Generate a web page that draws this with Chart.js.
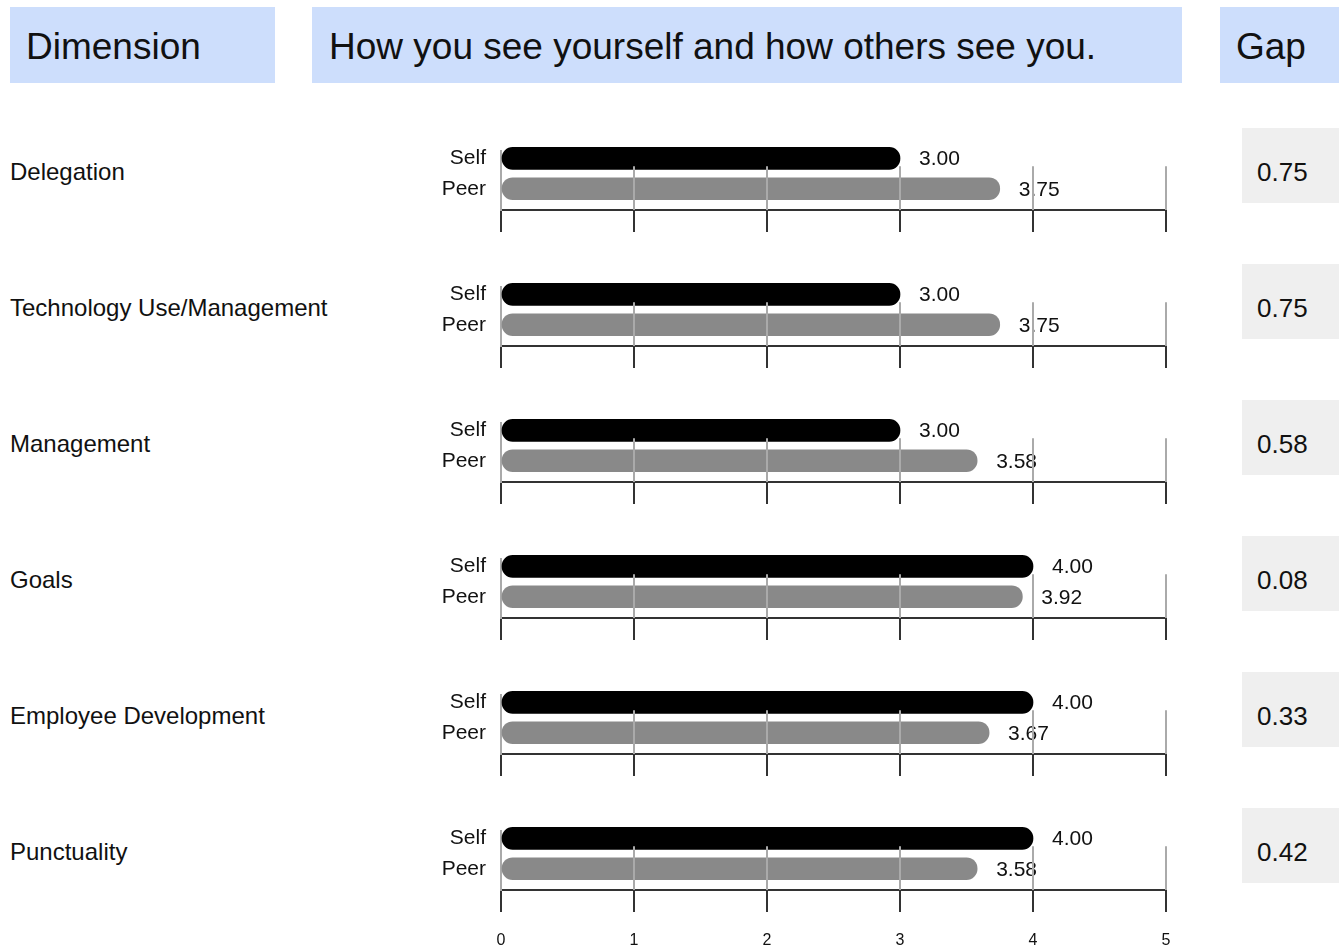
<!DOCTYPE html>
<html>
<head>
<meta charset="utf-8">
<script src="https://cdn.jsdelivr.net/npm/chart.js@4/dist/chart.umd.min.js"></script>
<style>
  body { margin: 0; width: 1339px; height: 947px; overflow: hidden; background: #fff;
         font-family: "Liberation Sans", Arial, Helvetica, sans-serif; position: relative; }
  .head { position: absolute; top: 7px; height: 76px; background: #cddefc; }
  .dim { position: absolute; left: 10px; font-size: 24px; color: #111; transform: translateY(-50%); white-space: nowrap; }
  .gapbox { position: absolute; left: 1242px; width: 97px; height: 75px; background: #efefef; }
  .gaptxt { position: absolute; left: 1257px; font-size: 26px; color: #111; transform: translateY(-50%); }
  .row { position: absolute; left: 401px; width: 790px; height: 150px; }
</style>
</head>
<body>
<div class="head" style="left:10px;width:265px"></div>
<div class="head" style="left:312px;width:870px"></div>
<div class="head" style="left:1220px;width:119px"></div>
<div id="labels"></div>
<script>
var dimensions = ['Delegation', 'Technology Use/Management', 'Management', 'Goals', 'Employee Development', 'Punctuality'];
var selfScores = [3.00, 3.00, 3.00, 4.00, 4.00, 4.00];
var peerScores = [3.75, 3.75, 3.58, 3.92, 3.67, 3.58];
var gaps = [0.75, 0.75, 0.58, 0.08, 0.33, 0.42];
var raters = ['Self', 'Peer'];
var xTicks = [0, 1, 2, 3, 4, 5];
var headers = ['Dimension', 'How you see yourself and how others see you.', 'Gap'];

var rowStep = 136;
var holder = document.getElementById('labels');

// header texts
var headLeft = [26, 329, 1236];
headers.forEach(function(h, i) {
  var s = document.createElement('span');
  s.textContent = h;
  s.style.cssText = 'position:absolute;top:47px;left:' + headLeft[i] + 'px;transform:translateY(-50%);font-size:37px;color:#111;white-space:nowrap';
  holder.appendChild(s);
});

// draws value labels and the light grid lines over the bars
var overlay = {
  id: 'overlay',
  afterDatasetsDraw: function(chart) {
    var ctx = chart.ctx;
    var xs = chart.scales.x, ys = chart.scales.y;
    var area = chart.chartArea;
    ctx.save();
    ctx.font = '21px "Liberation Sans", Arial, sans-serif';
    ctx.fillStyle = '#111';
    ctx.textBaseline = 'middle';
    chart.data.datasets[0].data.forEach(function(d) {
      ctx.fillText(d.x.toFixed(2), xs.getPixelForValue(d.x) + 19, ys.getPixelForValue(d.y) + 1);
    });
    ctx.strokeStyle = '#aaa';
    ctx.lineWidth = 2;
    xTicks.forEach(function(t) {
      if (t === 0) return;
      var x = xs.getPixelForValue(t);
      ctx.beginPath();
      ctx.moveTo(x, ys.getPixelForValue(0) + 8);
      ctx.lineTo(x, area.bottom);
      ctx.stroke();
    });
    ctx.restore();
  }
};

dimensions.forEach(function(name, i) {
  var center = 172 + rowStep * i;

  var lab = document.createElement('div');
  lab.className = 'dim';
  lab.style.top = center + 'px';
  lab.textContent = name;
  holder.appendChild(lab);

  var box = document.createElement('div');
  box.className = 'gapbox';
  box.style.top = (center - 44) + 'px';
  holder.appendChild(box);

  var g = document.createElement('div');
  g.className = 'gaptxt';
  g.style.top = center + 'px';
  g.textContent = gaps[i].toFixed(2);
  holder.appendChild(g);

  var wrap = document.createElement('div');
  wrap.className = 'row';
  wrap.style.top = (120 + rowStep * i) + 'px';
  var cv = document.createElement('canvas');
  wrap.appendChild(cv);
  holder.appendChild(wrap);

  var last = i === dimensions.length - 1;
  new Chart(cv.getContext('2d'), {
    type: 'bar',
    data: {
      datasets: [{
        data: [{ x: selfScores[i], y: 0 }, { x: peerScores[i], y: 1 }],
        backgroundColor: ['#000000', '#898989'],
        borderRadius: 11,
        borderSkipped: false,
        barThickness: 22,
        clip: false
      }]
    },
    options: {
      indexAxis: 'y',
      responsive: true,
      maintainAspectRatio: false,
      animation: false,
      layout: { padding: { top: 31, right: 25, left: 0, bottom: 0 } },
      plugins: { legend: { display: false }, tooltip: { enabled: false } },
      scales: {
        x: {
          type: 'linear',
          bounds: 'data',
          offset: false,
          min: 0,
          max: 5,
          afterBuildTicks: function(s) { s.ticks = xTicks.map(function(v) { return { value: v }; }); },
          afterFit: function(s) { s.height = 60; },
          ticks: {
            color: last ? '#111' : 'rgba(0,0,0,0)',
            font: { size: 16, family: '"Liberation Sans", Arial, sans-serif' },
            padding: 19
          },
          grid: { drawOnChartArea: false, drawTicks: true, tickLength: 22, color: '#333', lineWidth: 2 },
          border: { color: '#333', width: 2 }
        },
        y: {
          type: 'linear',
          bounds: 'data',
          offset: false,
          reverse: true,
          min: -0.24,
          max: 1.7,
          afterBuildTicks: function(s) { s.ticks = [{ value: 0 }, { value: 1 }]; },
          afterFit: function(s) { s.width = 100; },
          ticks: {
            color: '#111',
            font: { size: 21, family: '"Liberation Sans", Arial, sans-serif' },
            padding: 7,
            callback: function(v) { return raters[v]; }
          },
          grid: { display: false, offset: false },
          border: { color: '#aaa', width: 2 }
        }
      }
    },
    plugins: [overlay]
  });
});
</script>
</body>
</html>
